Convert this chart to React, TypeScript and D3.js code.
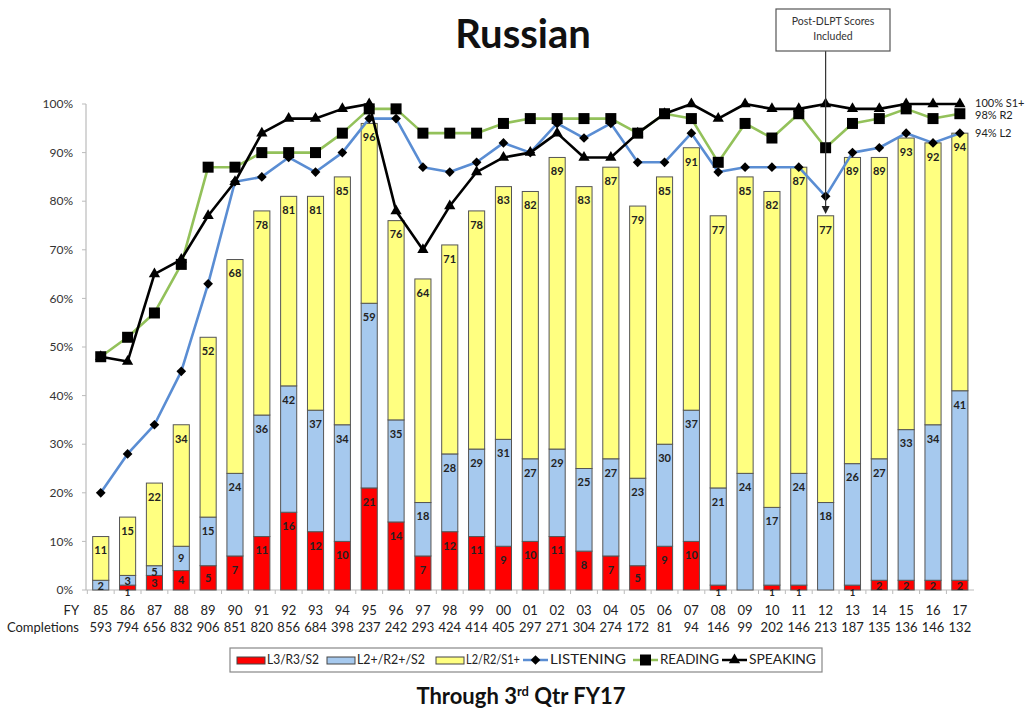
import * as d3 from 'd3';

// fiscal years and completions shown under each bar
const fiscalYears = ['85', '86', '87', '88', '89', '90', '91', '92', '93', '94', '95', '96', '97', '98', '99', '00', '01', '02', '03', '04', '05', '06', '07', '08', '09', '10', '11', '12', '13', '14', '15', '16', '17'];
const completions = [593, 794, 656, 832, 906, 851, 820, 856, 684, 398, 237, 242, 293, 424, 414, 405, 297, 271, 304, 274, 172, 81, 94, 146, 99, 202, 146, 213, 187, 135, 136, 146, 132];

// cumulative bar values (percent)
const l3Values = [0, 1, 3, 4, 5, 7, 11, 16, 12, 10, 21, 14, 7, 12, 11, 9, 10, 11, 8, 7, 5, 9, 10, 1, 0, 1, 1, 0, 1, 2, 2, 2, 2];
const l2PlusValues = [2, 3, 5, 9, 15, 24, 36, 42, 37, 34, 59, 35, 18, 28, 29, 31, 27, 29, 25, 27, 23, 30, 37, 21, 24, 17, 24, 18, 26, 27, 33, 34, 41];
const l2Values = [11, 15, 22, 34, 52, 68, 78, 81, 81, 85, 96, 76, 64, 71, 78, 83, 82, 89, 83, 87, 79, 85, 91, 77, 85, 82, 87, 77, 89, 89, 93, 92, 94];

// skill lines (percent)
const listening = [20, 28, 34, 45, 63, 84, 85, 89, 86, 90, 97, 97, 87, 86, 88, 92, 90, 96, 93, 96, 88, 88, 94, 86, 87, 87, 87, 81, 90, 91, 94, 92, 94];
const reading = [48, 52, 57, 67, 87, 87, 90, 90, 90, 94, 99, 99, 94, 94, 94, 96, 97, 97, 97, 97, 94, 98, 97, 88, 96, 93, 98, 91, 96, 97, 99, 97, 98];
const speaking = [48, 47, 65, 68, 77, 84, 94, 97, 97, 99, 100, 78, 70, 79, 86, 89, 90, 94, 89, 89, 94, 98, 100, 97, 100, 99, 99, 100, 99, 99, 100, 100, 100];

const yTicks = [0, 10, 20, 30, 40, 50, 60, 70, 80, 90, 100];

const FONT = "Lato, 'Open Sans', sans-serif";
const RED = '#FF0000';
const BLUE = '#A6C9EE';
const YELLOW = '#FFFF80';
const LISTEN_C = '#5A8DD3';
const READ_C = '#93C15A';

export default function App() {
  const W = 1032, H = 711;
  const x = d3.scaleBand<string>().domain(fiscalYears).range([90, 970.6]).paddingInner(0.4).paddingOuter(0.1);
  const y = d3.scaleLinear().domain([0, 100]).range([590, 104]);
  const bw = x.bandwidth();
  const cx = (i: number) => (x(fiscalYears[i]) as number) + bw / 2;
  const last = fiscalYears.length - 1;

  const line = d3.line<number>().x((d, i) => cx(i)).y(d => y(d));
  const diamond = d3.symbol().type(d3.symbolDiamond2).size(60)();
  const square = d3.symbol().type(d3.symbolSquare).size(121)();
  const triangle = d3.symbol().type(d3.symbolTriangle).size(55)();

  const segments = fiscalYears.flatMap((fy, i) => [
    { i, lo: 0, hi: l3Values[i], fill: RED },
    { i, lo: l3Values[i], hi: l2PlusValues[i], fill: BLUE },
    { i, lo: l2PlusValues[i], hi: l2Values[i], fill: YELLOW },
  ]).filter(s => s.hi > s.lo);

  const step = x.step();
  const lineSeries = [
    { data: listening, color: LISTEN_C, marker: diamond },
    { data: reading, color: READ_C, marker: square },
    { data: speaking, color: '#000', marker: triangle },
  ];

  // end-of-series labels
  const endLabels = [
    { text: `${speaking[last]}% S1+`, y: y(speaking[last]) - 1 },
    { text: `${reading[last]}% R2`, y: y(reading[last]) + 1 },
    { text: `${listening[last]}% L2`, y: y(listening[last]) },
  ];

  const legendItems = [
    { kind: 'box', fill: RED, label: 'L3/R3/S2', x: 237, w: 52 },
    { kind: 'box', fill: BLUE, label: 'L2+/R2+/S2', x: 327, w: 68 },
    { kind: 'box', fill: YELLOW, label: 'L2/R2/S1+', x: 436, w: 54 },
    { kind: 'line', fill: LISTEN_C, marker: diamond, label: 'LISTENING', x: 523, w: 76 },
    { kind: 'line', fill: READ_C, marker: square, label: 'READING', x: 633, w: 59 },
    { kind: 'line', fill: '#000', marker: triangle, label: 'SPEAKING', x: 722, w: 67 },
  ];

  const i12 = fiscalYears.indexOf('12');

  return (
    <svg width={W} height={H} style={{ position: 'absolute', left: 0, top: 0, background: '#fff' }} fontFamily={FONT}>
      <rect width={W} height={H} fill="#fff" />
      <text x={523} y={48} textAnchor="middle" fontSize={40} fontWeight="bold" fill="#111">Russian</text>

      {/* axes */}
      <line x1={86} x2={86} y1={y(100)} y2={y(0)} stroke="#bbb" strokeWidth={1.2} />
      {yTicks.map(t => (
        <g key={t}>
          <line x1={82} x2={86} y1={y(t)} y2={y(t)} stroke="#bbb" />
          <text x={73} y={y(t)} dy="0.35em" textAnchor="end" fontSize={12} fill="#333">{t}%</text>
        </g>
      ))}
      <line x1={86} x2={974} y1={y(0)} y2={y(0)} stroke="#bbb" strokeWidth={1.2} />
      {fiscalYears.map((fy, i) => (
        <line key={fy} x1={(x(fy) as number) - step * 0.2} x2={(x(fy) as number) - step * 0.2} y1={y(0)} y2={y(0) + 4} stroke="#bbb" />
      ))}

      {/* bars */}
      {segments.map((s, k) => (
        <rect key={k} x={x(fiscalYears[s.i])} y={y(s.hi)} width={bw} height={y(s.lo) - y(s.hi)} fill={s.fill} stroke="#555" strokeWidth={1} />
      ))}
      {segments.map((s, k) => {
        const h = y(s.lo) - y(s.hi);
        const small = s.lo === 0 && h < 8;
        return (
          <text key={k} x={cx(s.i)} y={small ? y(0) + 2.5 : y(s.hi) + Math.min(14, Math.max(h / 2, 6))} dy="0.35em" textAnchor="middle" fontSize={small ? 9.5 : 11} fontWeight="bold" fill="#222">{s.hi}</text>
        );
      })}

      {/* lines */}
      {lineSeries.map((s, k) => (
        <g key={k}>
          <path d={line(s.data) as string} fill="none" stroke={s.color} strokeWidth={2.6} strokeLinejoin="round" />
          {s.data.map((v, i) => (
            <path key={i} d={s.marker as string} transform={`translate(${cx(i)},${y(v)})`} fill="#000" />
          ))}
        </g>
      ))}

      {/* end labels */}
      {endLabels.map(l => (
        <text key={l.text} x={975} y={l.y} dy="0.35em" fontSize={11} fill="#222">{l.text}</text>
      ))}

      {/* callout */}
      <line x1={cx(i12)} x2={cx(i12)} y1={51} y2={207} stroke="#333" strokeWidth={1.2} />
      <path d={`M${cx(i12) - 4},${206} L${cx(i12) + 4},${206} L${cx(i12)},${214} Z`} fill="#222" />
      <rect x={776} y={9} width={114} height={42} fill="#fff" stroke="#555" strokeWidth={1.2} />
      <text x={833} y={25} textAnchor="middle" fontSize={10.5} fill="#333">Post-DLPT Scores</text>
      <text x={833} y={40} textAnchor="middle" fontSize={10.5} fill="#333">Included</text>

      {/* category rows */}
      <text x={79} y={610} dy="0.35em" textAnchor="end" fontSize={13} fill="#222">FY</text>
      <text x={79} y={627} dy="0.35em" textAnchor="end" fontSize={13} fill="#222">Completions</text>
      {fiscalYears.map((fy, i) => (
        <g key={fy}>
          <text x={cx(i)} y={610} dy="0.35em" textAnchor="middle" fontSize={13} fill="#222">{fy}</text>
          <text x={cx(i)} y={627} dy="0.35em" textAnchor="middle" fontSize={13} fill="#222">{completions[i]}</text>
        </g>
      ))}

      {/* legend */}
      <rect x={230} y={648} width={592} height={24} fill="#fff" stroke="#888" strokeWidth={1.2} />
      {legendItems.map(it => (
        <g key={it.label}>
          {it.kind === 'box'
            ? <rect x={it.x} y={657} width={28} height={7} fill={it.fill} stroke="#444" strokeWidth={1} />
            : <g>
                <line x1={it.x} x2={it.x + 25} y1={660} y2={660} stroke={it.fill} strokeWidth={2.5} />
                <path d={it.marker as string} transform={`translate(${it.x + 12.5},660)`} fill="#000" />
              </g>}
          <text x={it.x + (it.kind === 'box' ? 30 : 27)} y={660} dy="0.35em" fontSize={12.5} fill="#222" textLength={it.w} lengthAdjust="spacingAndGlyphs">{it.label}</text>
        </g>
      ))}

      {/* subtitle */}
      <text x={521} y={704} textAnchor="middle" fontSize={22} fontWeight="bold" fill="#111">
        Through 3<tspan fontSize={13} dy={-8}>rd</tspan><tspan dy={8}> Qtr FY17</tspan>
      </text>
    </svg>
  );
}
